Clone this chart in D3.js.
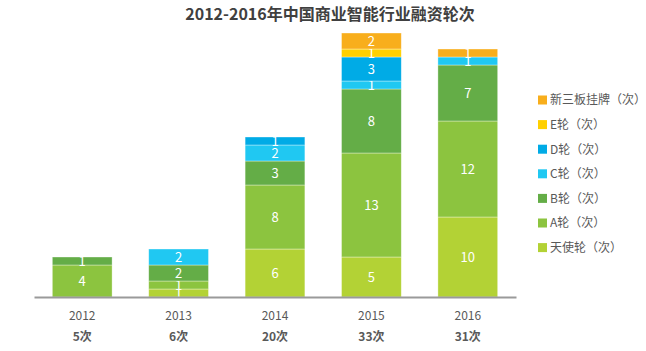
<!DOCTYPE html>
<html>
<head>
<meta charset="utf-8">
<script src="https://cdn.jsdelivr.net/npm/d3@7"></script>
<style>
  body { margin: 0; background: #fff; }
  svg { font-family: "Noto Sans CJK SC", "Noto Sans", sans-serif; }
</style>
</head>
<body>
<svg id="chart"></svg>
<script>
// data
const years = ['2012', '2013', '2014', '2015', '2016'];
const totals = ['5次', '6次', '20次', '33次', '31次'];
const seriesNames = ['天使轮（次）', 'A轮（次）', 'B轮（次）', 'C轮（次）', 'D轮（次）', 'E轮（次）', '新三板挂牌（次）'];
const angel = [0, 1, 6, 5, 10];
const roundA = [4, 1, 8, 13, 12];
const roundB = [1, 2, 3, 8, 7];
const roundC = [0, 2, 2, 1, 1];
const roundD = [0, 0, 1, 3, 0];
const roundE = [0, 0, 0, 1, 0];
const neeq = [0, 0, 0, 2, 1];
const colors = ['#b3d235', '#8cc43f', '#64ad47', '#20c8f2', '#00abe6', '#ffd000', '#f8ae1c'];

const width = 646, height = 351;
const baseY = 297;

const svg = d3.select('#chart')
    .attr('width', width)
    .attr('height', height);

// title
svg.append('text')
    .attr('x', 330)
    .attr('y', 20)
    .attr('text-anchor', 'middle')
    .attr('font-size', '16px')
    .attr('font-weight', 'bold')
    .attr('fill', '#404040')
    .text('2012-2016年中国商业智能行业融资轮次');

const allSeries = [angel, roundA, roundB, roundC, roundD, roundE, neeq];
const table = years.map((y, i) => {
    let row = {year: y};
    seriesNames.forEach((s, k) => row[s] = allSeries[k][i]);
    return row;
});

const stack = d3.stack().keys(seriesNames);
const stacked = stack(table);

const xScale = d3.scaleBand()
    .domain(years)
    .range([34, 516])
    .paddingInner(0.38)
    .paddingOuter(0.19);

const yScale = d3.scaleLinear()
    .domain([0, 33])
    .range([baseY, 33]);

// bars
const layers = svg.append('g')
    .selectAll('g')
    .data(stacked)
    .join('g')
    .attr('fill', (d, i) => colors[i]);

layers.selectAll('rect')
    .data(d => d.filter(p => p[1] - p[0] > 0))
    .join('rect')
    .attr('x', d => xScale(d.data.year))
    .attr('y', d => yScale(d[1]))
    .attr('width', xScale.bandwidth())
    .attr('height', d => yScale(d[0]) - yScale(d[1]))
    .attr('stroke', 'rgba(255,255,255,0.5)')
    .attr('stroke-width', 0.7);

// value labels
layers.selectAll('text')
    .data(d => d.filter(p => p[1] - p[0] > 0))
    .join('text')
    .attr('x', d => xScale(d.data.year) + xScale.bandwidth() / 2)
    .attr('y', d => (yScale(d[0]) + yScale(d[1])) / 2)
    .attr('dy', '0.36em')
    .attr('text-anchor', 'middle')
    .attr('font-size', '13px')
    .attr('fill', '#fff')
    .text(d => d[1] - d[0]);

// x axis
const axis = svg.append('g')
    .attr('transform', `translate(0,${baseY})`)
    .call(d3.axisBottom(xScale).tickSize(0).tickPadding(14));
axis.select('.domain')
    .attr('stroke', '#9a9a9a')
    .attr('stroke-width', 2);
axis.selectAll('text')
    .attr('font-size', '12px')
    .attr('fill', '#595959')
    .attr('font-family', '"Noto Sans CJK SC", sans-serif');

// totals
svg.append('g')
    .selectAll('text')
    .data(years)
    .join('text')
    .attr('x', d => xScale(d) + xScale.bandwidth() / 2)
    .attr('y', 341)
    .attr('text-anchor', 'middle')
    .attr('font-size', '12px')
    .attr('font-weight', 'bold')
    .attr('fill', '#595959')
    .text((d, i) => totals[i]);

// legend
const legend = svg.append('g')
    .selectAll('g')
    .data(seriesNames.slice().reverse())
    .join('g')
    .attr('transform', (d, i) => `translate(538,${100 + i * 24.6})`);

legend.append('rect')
    .attr('x', 0)
    .attr('y', -4.5)
    .attr('width', 9)
    .attr('height', 9)
    .attr('fill', (d, i) => colors[colors.length - 1 - i]);

legend.append('text')
    .attr('x', 12)
    .attr('dy', '0.36em')
    .attr('font-size', '12px')
    .attr('fill', '#595959')
    .text(d => d);
</script>
</body>
</html>
